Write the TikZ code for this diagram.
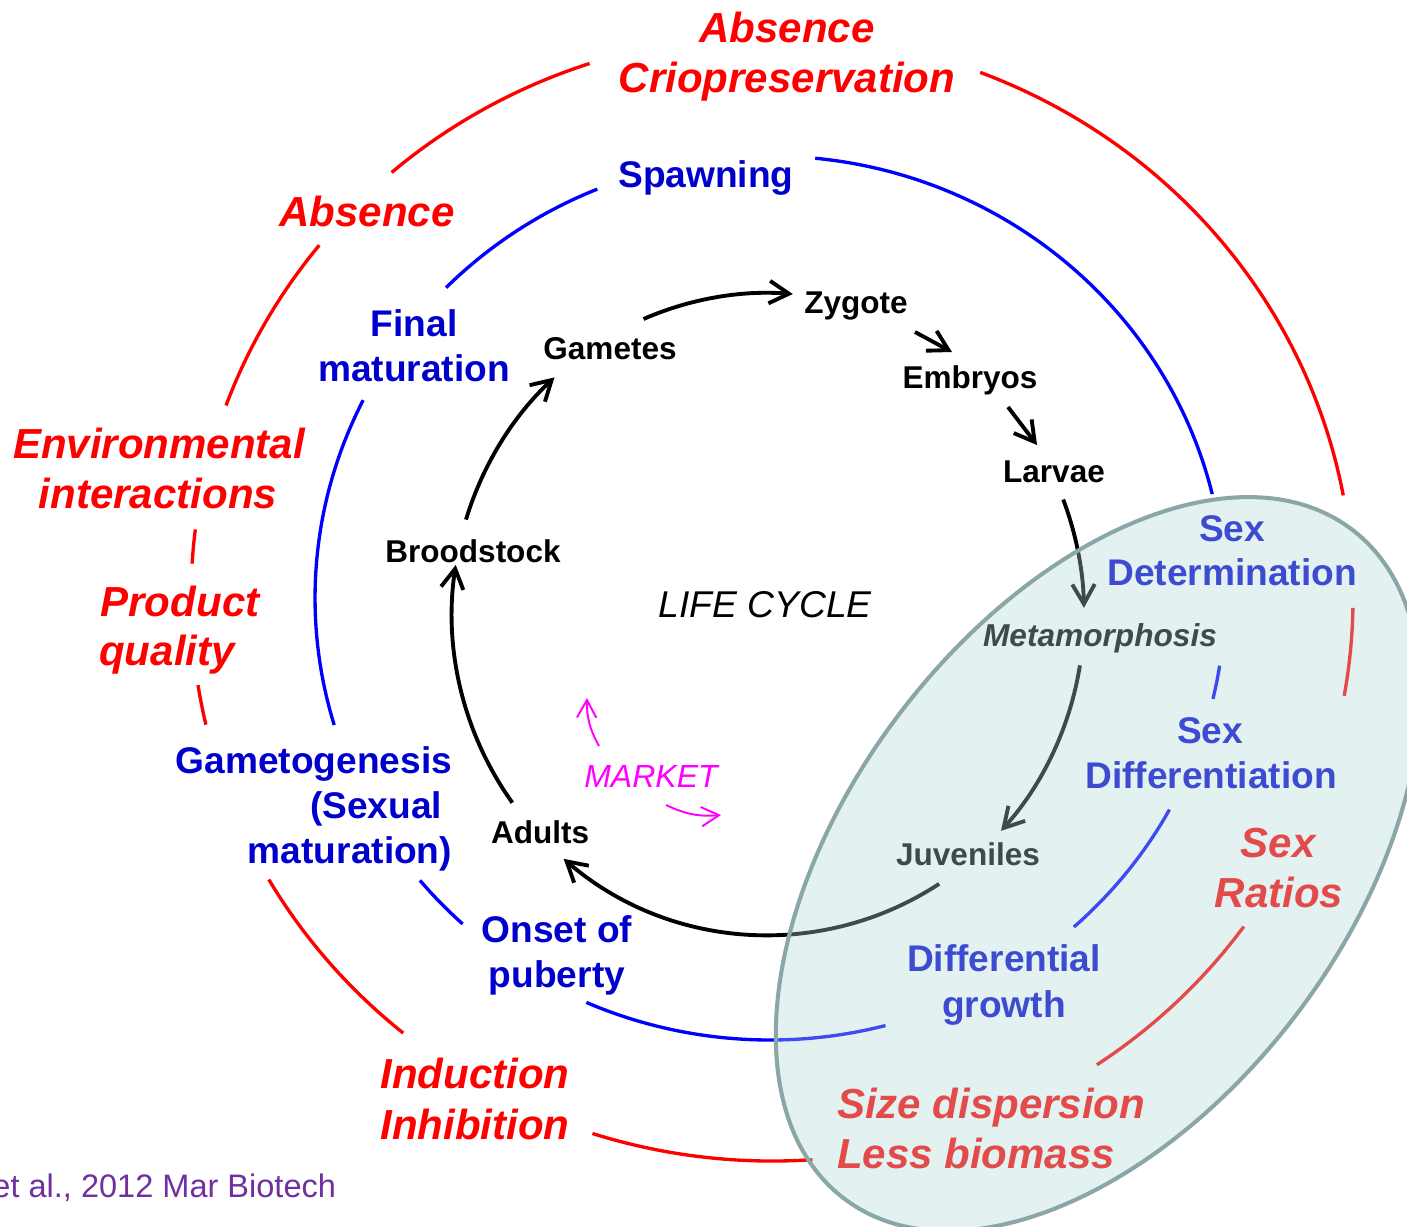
\documentclass[tikz,border=0pt]{standalone}
\usepackage{fontspec}
\setmainfont{Liberation Sans}
\usetikzlibrary{arrows.meta,calc}
\definecolor{cred}{RGB}{255,0,0}
\definecolor{cblue}{RGB}{0,0,255}
\definecolor{cbluet}{RGB}{0,0,204}
\definecolor{cmag}{RGB}{255,0,255}
\definecolor{cpurp}{RGB}{112,48,160}
\definecolor{covl}{RGB}{177,217,217}
\definecolor{cbord}{RGB}{138,166,166}
\newcommand\fRed{\fontsize{11.95pt}{14pt}\selectfont\bfseries\itshape}
\newcommand\fBlue{\fontsize{10.55pt}{12.5pt}\selectfont\bfseries}
\newcommand\fBlk{\fontsize{8.96pt}{10.5pt}\selectfont\bfseries}
\newcommand\fMeta{\fontsize{9pt}{10.5pt}\selectfont\bfseries\itshape}
\newcommand\fLife{\fontsize{10.6pt}{12.5pt}\selectfont\itshape}
\newcommand\fMkt{\fontsize{9.1pt}{11pt}\selectfont\itshape}
\newcommand\fCite{\fontsize{9.25pt}{11pt}\selectfont}
\begin{document}
\begin{tikzpicture}[x=0.01cm,y=0.01cm,
  lbl/.style={inner sep=0pt, outer sep=0pt, anchor=base},
  redlbl/.style={lbl, text=cred, font=\fRed},
  bluelbl/.style={lbl, text=cbluet, font=\fBlue},
  blklbl/.style={lbl, text=black, font=\fBlk},
  redarc/.style={draw=cred, line width=0.95pt},
  bluearc/.style={draw=cblue, line width=0.95pt},
  cyc/.style={draw=black, line width=1.1pt, -{Straight Barb[length=5.6pt,width=6.4pt]}},
  mkt/.style={draw=cmag, line width=0.55pt, -{Straight Barb[length=5pt,width=5.5pt]}},
]
\useasboundingbox (0,-1226) rectangle (1407,0);
\clip (0,-1226) rectangle (1407,0);
\fill[white] (0,-1226) rectangle (1407,0);

% centres
\coordinate (RC) at (772,-598);
\coordinate (BC) at (770,-598);
\coordinate (KC) at (768,-614);

% red outer ring
\foreach \a/\b in {108.3/130.9, 10.5/69, 141.2/160, 173/176.5, 188.9/193, 210/230.6, 252/274, -10/-1, -56/-35.7}{
  \draw[redarc] ($(RC)+(\a:581 and 563)$) arc[start angle=\a, end angle=\b, x radius=581, y radius=563];
}
% blue ring
\foreach \a/\b in {112.3/135.4, 13.6/84.3, 153.4/196.7, 219.7/227.5, 246.2/284.7, -13.2/-8.8, -48.1/-28.6}{
  \draw[bluearc] ($(BC)+(\a:455 and 442)$) arc[start angle=\a, end angle=\b, x radius=455, y radius=442];
}

% labels outer
\node[redlbl] (absT) at (787,-42) {Absence};
\node[redlbl] (crio) at (787,-92) {Criopreservation};
\node[bluelbl] (spawn) at (706,-187) {Spawning};
\node[redlbl] (absL) at (367,-226) {Absence};
\node[bluelbl] (fin1) at (414,-336) {Final};
\node[bluelbl] (fin2) at (414,-381) {maturation};
\node[redlbl] (env1) at (159,-458) {Environmental};
\node[redlbl] (env2) at (158,-508) {interactions};
\node[redlbl] (prod1) at (180,-616) {Product};
\node[redlbl] (prod2) at (167,-665) {quality};
\node[bluelbl, anchor=base east] (gam1) at (452,-773) {Gametogenesis};
\node[bluelbl, anchor=base east] (gam2) at (442,-818) {(Sexual};
\node[bluelbl, anchor=base east] (gam3) at (452,-863) {maturation)};
\node[bluelbl] (ons1) at (557,-942) {Onset of};
\node[bluelbl] (ons2) at (557,-987) {puberty};
\node[redlbl] (ind1) at (475,-1088) {Induction};
\node[redlbl] (ind2) at (475,-1139) {Inhibition};
\node[lbl, anchor=base east, text=cpurp, font=\fCite] (cite) at (336,-1197) {et al., 2012 Mar Biotech};

% life cycle labels
\node[blklbl] (zyg) at (856,-313) {Zygote};
\node[blklbl] (gam) at (610,-359) {Gametes};
\node[blklbl] (emb) at (970,-388) {Embryos};
\node[blklbl] (lar) at (1054,-482) {Larvae};
\node[blklbl] (brood) at (473,-562) {Broodstock};
\node[blklbl] (adu) at (540,-843) {Adults};
\node[blklbl] (juv) at (968,-865) {Juveniles};
\node[lbl, font=\fMeta, text=black] (meta) at (1100,-646) {Metamorphosis};
\node[lbl, font=\fLife, text=black] (life) at (765,-617) {LIFE CYCLE};
\node[lbl, font=\fMkt, text=cmag] (mkt) at (651,-787) {MARKET};

% inner labels (ellipse)
\node[bluelbl] (sd1) at (1232,-541) {Sex};
\node[bluelbl] (sd2) at (1232,-585) {Determination};
\node[bluelbl] (sdf1) at (1210,-743) {Sex};
\node[bluelbl] (sdf2) at (1211,-788) {Differentiation};
\node[redlbl] (sr1) at (1278,-857) {Sex};
\node[redlbl] (sr2) at (1279,-907) {Ratios};
\node[bluelbl] (dg1) at (1004,-971) {Differential};
\node[bluelbl] (dg2) at (1004,-1017) {growth};
\node[redlbl, anchor=base west] (sz1) at (837,-1118) {Size dispersion};
\node[redlbl, anchor=base west] (sz2) at (837,-1168) {Less biomass};

% cycle arrows (arcs of the life-cycle circle)
\coordinate (gamS) at ($(KC)+(113.2:316 and 321)$);
\draw[cyc] (gamS) arc[start angle=113.2, end angle=85.5, x radius=316, y radius=321];
\coordinate (broS) at ($(KC)+(162.9:316 and 321)$);
\draw[cyc] (broS) arc[start angle=162.9, end angle=132.5, x radius=316, y radius=321];
\coordinate (aduS) at ($(KC)+(216:316 and 321)$);
\draw[cyc] (aduS) arc[start angle=216, end angle=171.2, x radius=316, y radius=321];
\coordinate (juvS) at ($(KC)+(302.8:316 and 321)$);
\draw[cyc] (juvS) arc[start angle=302.8, end angle=229.7, x radius=316, y radius=321];
\coordinate (larS) at ($(KC)+(20.9:316 and 321)$);
\draw[cyc] (larS) arc[start angle=20.9, end angle=1.1, x radius=316, y radius=321];
\coordinate (metS) at ($(KC)+(-9.2:316 and 321)$);
\draw[cyc] (metS) arc[start angle=-9.2, end angle=-42.5, x radius=316, y radius=321];

% short straight arrows
\coordinate (zygS) at (915,-332);
\coordinate (embE) at (952,-352);
\draw[cyc] (zygS) -- (embE);
\coordinate (embS) at (1008,-407);
\coordinate (larE) at (1037,-445);
\draw[cyc] (embS) -- (larE);

% market arrows
\coordinate (mk1s) at (599,-746);
\coordinate (mk1e) at (587,-698);
\draw[mkt] (mk1s) to[bend left=15] (mk1e);
\coordinate (mk2s) at (666,-805);
\coordinate (mk2e) at (721,-815);
\draw[mkt] (mk2s) to[bend right=15] (mk2e);

% translucent ellipse
\begin{scope}[shift={(1098,-864)}, rotate=52.8]
  \fill[covl, opacity=0.35] (0,0) ellipse [x radius=420, y radius=249];
  \draw[cbord, line width=1.15pt] (0,0) ellipse [x radius=420, y radius=249];
\end{scope}
\end{tikzpicture}
\end{document}
